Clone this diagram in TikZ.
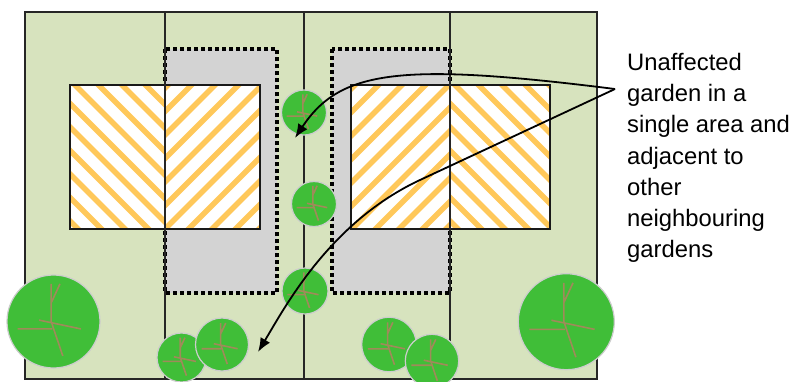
\documentclass[tikz,border=0pt]{standalone}
\usepackage{fontspec}
\setmainfont{Liberation Sans}
\usetikzlibrary{arrows.meta}
\definecolor{lawn}{RGB}{215,227,190}
\definecolor{paving}{RGB}{211,211,211}
\definecolor{hatch}{RGB}{255,200,90}
\definecolor{foliage}{RGB}{64,190,56}
\definecolor{branch}{RGB}{160,138,90}
\definecolor{treeedge}{RGB}{205,205,205}

\begin{document}
\begin{tikzpicture}[x=1pt,y=-1pt]
            \tikzset{boundary/.style={line width=1.6pt, black!85}}
            \tikzset{house/.style={line width=1.8pt, black!90}}
            \tikzset{patio/.style={fill=paving, draw=black, line width=3.6pt, dash pattern=on 3.6pt off 3.4pt}}
            \tikzset{stripe/.style={hatch, line width=5.5pt}}
            \tikzset{callout/.style={line width=1.8pt, -{Latex[length=14pt,width=11pt]}}}
            \tikzset{note/.style={align=left, inner sep=0pt, font=\fontsize{23.8}{31.2}\selectfont}}
            \tikzset{tree/.pic={
                \filldraw[foliage, draw=treeedge, line width=1.2pt] (0,0) circle [radius=1];
                \draw[branch, line width=1.6pt] (-0.05,-0.81) -- (-0.05,0) -- (0.2,0.74)
                    (0.14,-0.81) -- (-0.05,-0.40)
                    (-0.31,-0.03) -- (0.59,0.16)
                    (-0.77,0.16) -- (-0.03,0.16);
            }}
            \useasboundingbox (0,0) rectangle (792,381);

            % gardens and paved side strips
            \fill[lawn] (25,12) rectangle (597,379);
            \filldraw[patio] (165,49) rectangle (277,293);
            \filldraw[patio] (332,49) rectangle (450,293);

            % left pair of houses
            \fill[white] (70,85) rectangle (260,229);
            \begin{scope}
                \clip (70,85) rectangle (165,229);
                \foreach \k in {-7,...,4}
                    \draw[stripe] ({75+23.5*\k-300},-215) -- ++(600,600);
            \end{scope}
            \begin{scope}
                \clip (165,85) rectangle (260,229);
                \foreach \k in {0,...,10}
                    \draw[stripe] ({168+23.5*\k+300},-215) -- ++(-600,600);
            \end{scope}
            \draw[house] (70,85) rectangle (260,229);

            % right pair of houses
            \fill[white] (351,85) rectangle (550,229);
            \begin{scope}
                \clip (351,85) rectangle (450,229);
                \foreach \k in {0,...,10}
                    \draw[stripe] ({355+23.5*\k+300},-215) -- ++(-600,600);
            \end{scope}
            \begin{scope}
                \clip (450,85) rectangle (550,229);
                \foreach \k in {-7,...,4}
                    \draw[stripe] ({455+23.5*\k-300},-215) -- ++(600,600);
            \end{scope}
            \draw[house] (351,85) rectangle (550,229);

            % plot boundaries
            \draw[boundary] (165,12) -- (165,379);
            \draw[boundary] (304,12) -- (304,379);
            \draw[boundary] (450,12) -- (450,379);
            \draw[boundary] (25,12) rectangle (597,379);

            % trees
            \pic[scale=46.5] at (53.5,321.5) {tree};
            \pic[scale=24.5] at (181.5,357.5) {tree};
            \pic[scale=26.5] at (222,344.5) {tree};
            \pic[scale=22.5] at (304,112.5) {tree};
            \pic[scale=22.5] at (314,204) {tree};
            \pic[scale=23] at (305,291) {tree};
            \pic[scale=27.3] at (389,344.5) {tree};
            \pic[scale=26.7] at (432,361) {tree};
            \pic[scale=48] at (566.3,321.7) {tree};

            % label and arrows
            \node[note, anchor=north west] (label) at (627,53) {Unaffected\\garden in a\\single area and\\adjacent to\\other\\neighbouring\\gardens};
            \coordinate (src) at (615,89);
            \coordinate (tipA) at (295,138);
            \coordinate (tipB) at (258,352);
            \draw[callout] (src) .. controls (400,62) and (340,70) .. (tipA);
            \draw[callout] (src) -- (420,180) .. controls (330,222) and (285,307) .. (tipB);
\end{tikzpicture}
\end{document}
